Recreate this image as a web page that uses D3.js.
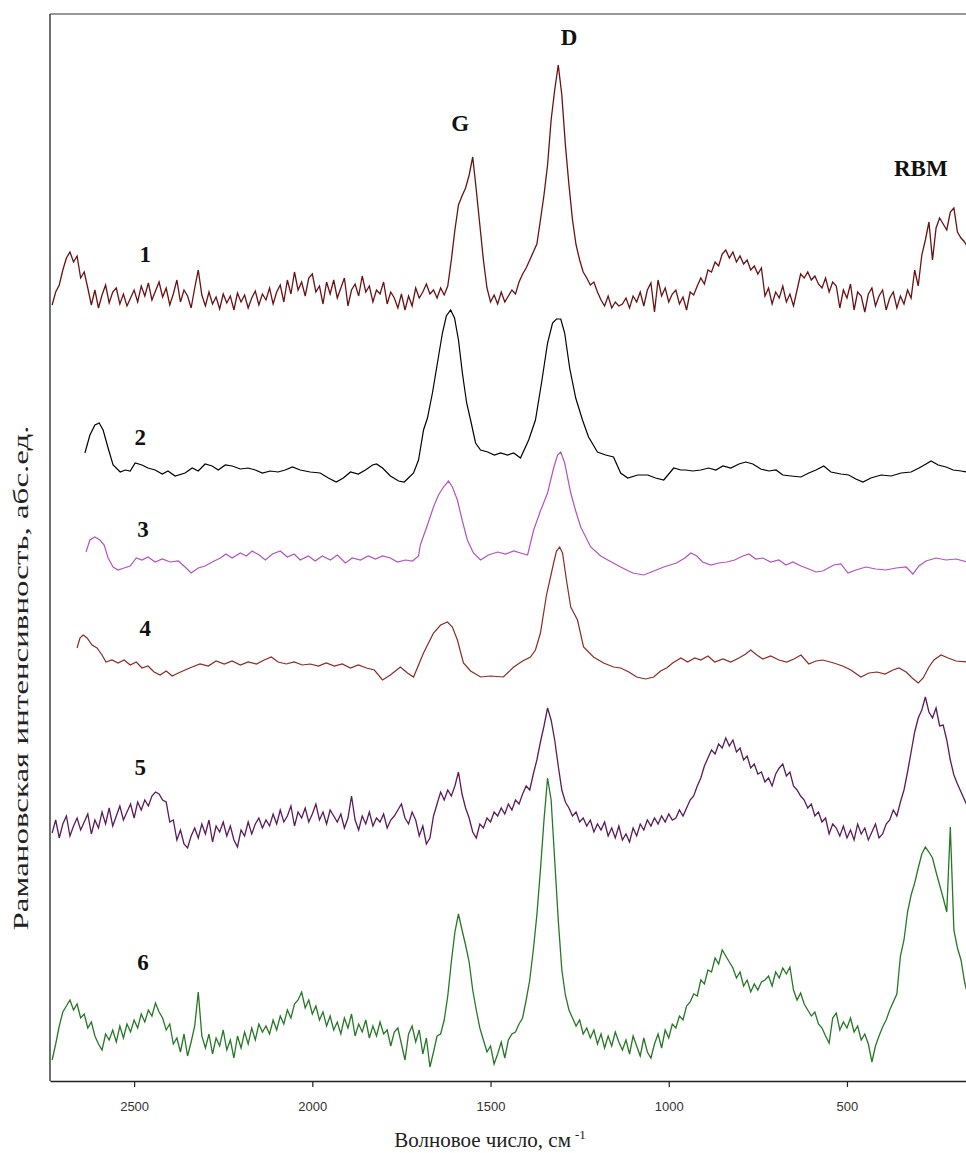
<!DOCTYPE html>
<html>
<head>
<meta charset="utf-8">
<script src="https://cdn.jsdelivr.net/npm/d3@7"></script>
<style>
  html, body { margin: 0; padding: 0; background: #fff; }
  svg { display: block; }
</style>
</head>
<body>
<svg id="chart" width="966" height="1153"></svg>
<script>
// ---------- DATA ----------
// x axis tick labels (wavenumber, cm^-1)
const xTicks = [2500, 2000, 1500, 1000, 500];

// series names / labels
const seriesNames = ["1", "2", "3", "4", "5", "6"];
const seriesColors = ["#6a1212", "#000000", "#b552bd", "#8c2b22", "#5b1a5b", "#267826"];
// vertical offsets of the stacked spectra (arbitrary intensity units)
const seriesOffsets = [781, 613, 518, 416, 251, 41];

// Noisy spectra (1, 5, 6) sampled every 10 cm^-1 starting at 2730 cm^-1
const noisyStart = 2730, noisyStep = 10;

const spectrum1 = [
  -5, 8, 15, 30, 42, 48, 38, 44, 22, 28,
  12, -5, 10, -8, 5, 15, -3, 8, 12, -4,
  6, -6, 2, 10, -2, 14, 4, 17, 0, 9,
  18, 3, 12, -5, 6, 20, -2, 10, 4, -8,
  12, 30, 5, -6, 8, -4, 3, -9, 6, -3,
  4, -10, 7, -2, 5, -8, 2, 9, -5, 6,
  0, 12, -4, 8, 15, -2, 20, 6, 28, 10,
  18, 4, 22, 26, 8, 14, -4, 18, 6, 20,
  2, 12, 22, -6, 10, 16, 4, 24, 8, 14,
  -2, 10, 6, 18, -4, 8, 2, -8, 6, -10,
  4, -6, 12, 2, 8, 16, 6, 10, 2, 12,
  5, 14, 40, 70, 95, 104, 112, 125, 143, 110,
  75, 40, 12, -2, 5, -4, 8, -2, 4, 10,
  6, 18, 26, 32, 40, 48, 56, 80, 105, 135,
  180, 210, 235, 205, 155, 115, 80, 55, 40, 28,
  22, 15, 18, 8, 0, -6, 4, -8, -2, -6,
  -4, 2, -8, 4, -2, 8, -6, 10, 17, -12,
  20, 4, 12, -2, 6, 10, -4, 3, -10, 8,
  5, 14, 22, 16, 30, 28, 38, 34, 46, 50,
  42, 48, 38, 44, 36, 40, 30, 34, 26, 32,
  4, 12, -4, 8, 2, 14, -2, 6, -6, 10,
  26, 22, 28, 20, 24, 16, 12, 22, 8, 18,
  14, -8, 10, 2, 16, -10, 8, 4, -12, 6,
  12, -6, 4, 10, -10, 2, 8, -8, 4, -4,
  10, 2, 30, 14, 45, 60, 78, 40, 72, 82,
  76, 70, 88, 92, 68, 62, 58, 52
];

const spectrum5 = [
  -3, 10, -8, 6, 14, -6, 4, 12, 0, 8,
  16, -4, 10, 2, 18, 6, 22, 4, 14, 24,
  10, 18, 26, 12, 28, 20, 30, 24, 34, 38,
  36, 30, 28, 8, 10, -10, 0, -14, -18, -6,
  2, -8, 6, -4, 10, -12, 4, -2, 8, -6,
  4, -10, -17, 0, -6, 8, -4, 6, 12, 2,
  10, 4, 16, 6, 20, 8, 14, 24, 4, 18,
  12, 22, 8, 16, 26, 10, 18, 6, 20, 14,
  8, 16, 2, 12, 34, 10, 0, 14, 6, 18,
  4, 12, 8, 16, 2, 10, 14, 20, 26, 12,
  6, 18, 10, -6, 4, -14, -8, 14, 26, 38,
  30, 40, 34, 44, 58, 36, 22, 12, -2, -8,
  6, 2, 12, 8, 18, 14, 22, 16, 26, 20,
  30, 26, 36, 44, 40, 56, 70, 88, 104, 122,
  110, 90, 64, 40, 28, 22, 14, 18, 8, 12,
  4, 10, -2, 6, 0, 8, -6, 2, -8, 4,
  -10, -4, -12, 2, -6, 6, 0, 10, 4, 12,
  6, 14, 8, 16, 10, 12, 20, 14, 22, 30,
  34, 44, 52, 64, 72, 80, 76, 86, 82, 92,
  84, 90, 78, 82, 70, 74, 62, 66, 56, 58,
  48, 52, 44, 56, 62, 66, 54, 58, 44, 40,
  34, 30, 22, 26, 14, 18, 8, 12, -4, 6,
  2, -6, 4, -8, 0, -10, 6, -4, 2, -10,
  -2, 6, -8, -4, 6, 10, 20, 14, 28, 40,
  58, 78, 98, 112, 120, 133, 118, 112, 122, 104,
  105, 90, 70, 55, 46, 38, 30, 22
];

const spectrum6 = [
  -20, -4, 14, 28, 34, 40, 30, 36, 22, 26,
  12, 18, 4, -4, -10, 6, 0, 10, -2, 14,
  2, 16, 8, 20, 12, 26, 18, 30, 24, 37,
  28, 22, 10, 16, -4, 2, -12, 6, -16, -2,
  14, 48, 4, -8, 6, -14, 2, -6, 10, -10,
  0, -18, 4, -8, 8, -4, 12, 0, 16, 8,
  14, 6, 20, 10, 24, 16, 30, 22, 36, 40,
  48, 32, 40, 26, 34, 20, 28, 14, 24, 10,
  18, 6, 22, 12, 26, 4, 16, 8, 20, 2,
  14, 4, 18, 6, 10, -6, 8, 12, -4, -20,
  6, 14, -2, 10, -14, 2, -27, -12, 4, 6,
  20, 44, 78, 108, 126, 110, 95, 78, 50, 30,
  12, 0, -12, -6, -24, -14, -2, -18, 0, 6,
  8, 16, 22, 40, 60, 90, 125, 170, 220, 262,
  240, 180, 120, 70, 45, 30, 22, 14, 20, 6,
  12, 2, 10, -4, 6, -8, 4, -6, 8, -2,
  -10, 0, -14, 4, -6, -16, 2, -12, -18, -4,
  6, -8, 10, 2, 16, 12, 24, 20, 34, 38,
  46, 44, 60, 56, 70, 68, 82, 76, 90, 84,
  78, 72, 62, 68, 54, 60, 48, 56, 50, 58,
  60, 64, 54, 68, 62, 72, 66, 73, 50, 40,
  47, 36, 30, 24, 28, 16, 12, 4, -3, 22,
  27, 10, 18, 12, 22, 8, 14, 0, 6, -4,
  -22, -6, 4, 13, 20, 30, 38, 46, 84, 100,
  128, 145, 157, 172, 186, 193, 188, 182, 168, 155,
  142, 128, 213, 110, 92, 80, 58, 43
];

// Smooth spectra (2, 3, 4) as [wavenumber, intensity] pairs
const spectrum2 = [
  [2638,15],[2624,33],[2610,43],[2598,45],[2587,38],[2573,20],[2559,3],[2539,-4],[2525,-2],[2511,-3],
  [2497,5],[2478,3],[2461,0],[2441,-2],[2421,-6],[2405,-3],[2385,-8],[2357,-5],[2337,0],[2320,-3],
  [2301,4],[2281,2],[2264,-2],[2244,3],[2225,2],[2202,-1],[2180,0],[2160,-2],[2140,-5],[2118,-3],
  [2096,-4],[2076,-2],[2056,1],[2034,-2],[2006,-4],[1978,-5],[1955,-10],[1933,-14],[1913,-10],[1893,-4],
  [1871,-6],[1851,-2],[1831,3],[1820,4],[1803,0],[1781,-8],[1758,-13],[1742,-14],[1716,-5],[1702,8],
  [1688,38],[1677,50],[1663,75],[1649,105],[1635,135],[1624,152],[1612,158],[1601,150],[1590,128],[1579,95],
  [1567,65],[1556,48],[1542,25],[1528,18],[1508,16],[1489,13],[1472,15],[1452,13],[1435,15],[1416,10],
  [1393,28],[1374,48],[1357,85],[1340,125],[1326,145],[1315,149],[1303,149],[1292,135],[1278,100],[1261,70],
  [1242,48],[1225,31],[1200,16],[1177,13],[1155,11],[1135,-5],[1115,-10],[1087,-7],[1059,-7],[1037,-10],
  [1014,-12],[986,0],[966,-2],[952,-2],[933,-3],[910,-2],[888,0],[868,-2],[848,2],[826,0],
  [803,4],[784,6],[764,4],[742,-1],[719,-3],[699,-2],[680,-7],[657,-8],[629,-9],[607,-5],
  [587,-2],[565,2],[545,-4],[517,-6],[495,-7],[475,-11],[455,-14],[433,-10],[404,-7],[376,-8],
  [348,-5],[320,-4],[298,0],[278,4],[264,7],[244,3],[222,1],[202,-2],[180,-3],[163,-4]
];

const spectrum3 = [
  [2635,11],[2624,23],[2610,26],[2596,23],[2584,18],[2573,5],[2559,-4],[2545,-7],[2528,-5],[2511,-3],
  [2494,5],[2478,3],[2461,6],[2441,1],[2421,4],[2399,1],[2376,2],[2357,-4],[2340,-10],[2320,-5],
  [2301,-3],[2281,1],[2258,5],[2242,9],[2225,5],[2202,10],[2185,7],[2169,12],[2149,8],[2132,3],
  [2112,9],[2090,12],[2070,6],[2051,9],[2034,3],[2011,7],[1992,2],[1972,7],[1949,3],[1930,8],
  [1907,0],[1888,5],[1865,3],[1843,7],[1823,4],[1803,7],[1781,5],[1761,1],[1739,3],[1719,2],
  [1702,7],[1697,18],[1677,38],[1660,56],[1646,68],[1632,76],[1618,82],[1607,76],[1593,63],[1579,42],
  [1565,23],[1548,10],[1528,3],[1506,8],[1480,11],[1458,9],[1435,12],[1416,10],[1396,8],[1379,33],
  [1360,52],[1340,70],[1323,95],[1312,108],[1303,111],[1292,100],[1275,70],[1261,52],[1247,36],[1219,16],
  [1191,7],[1171,3],[1135,-4],[1101,-10],[1070,-12],[1042,-8],[1014,-4],[978,0],[955,5],[938,10],
  [921,7],[905,1],[882,-2],[860,0],[837,1],[815,3],[792,7],[775,9],[756,4],[736,5],
  [714,1],[691,3],[671,-2],[652,1],[629,-3],[607,-6],[587,-9],[568,-8],[537,-2],[517,-1],
  [497,-10],[475,-7],[447,-4],[419,-6],[391,-7],[362,-5],[334,-4],[315,-11],[298,-3],[278,2],
  [250,5],[222,3],[194,4],[163,1]
];

const spectrum4 = [
  [2660,17],[2652,27],[2643,30],[2632,27],[2618,20],[2604,17],[2590,10],[2579,3],[2562,5],[2545,2],
  [2528,5],[2511,0],[2494,3],[2478,-3],[2461,-1],[2444,-7],[2427,-10],[2410,-6],[2393,-11],[2376,-8],
  [2357,-5],[2337,-2],[2315,1],[2292,-1],[2270,4],[2247,1],[2225,4],[2202,0],[2180,3],[2157,1],
  [2135,5],[2115,8],[2096,3],[2073,1],[2051,3],[2028,0],[2006,1],[1983,-1],[1961,2],[1938,-1],
  [1916,1],[1893,-3],[1871,0],[1848,-3],[1826,-5],[1803,-15],[1781,-10],[1753,-2],[1733,-8],[1716,-12],
  [1688,12],[1660,32],[1640,40],[1621,43],[1607,38],[1593,25],[1576,2],[1556,-6],[1528,-12],[1500,-11],
  [1464,-12],[1435,-2],[1410,4],[1388,8],[1374,15],[1360,32],[1343,70],[1323,102],[1315,114],[1306,118],
  [1298,112],[1287,85],[1275,58],[1256,45],[1239,18],[1211,8],[1183,2],[1155,-2],[1135,-3],[1112,-7],
  [1090,-12],[1065,-14],[1042,-12],[1023,-6],[1006,-3],[989,2],[966,7],[947,3],[927,7],[910,5],
  [890,9],[871,3],[848,6],[826,3],[803,7],[784,11],[770,15],[753,10],[736,6],[714,9],
  [691,5],[669,3],[649,6],[629,10],[607,1],[587,4],[568,5],[537,2],[512,-1],[489,-5],
  [461,-12],[438,-8],[416,-7],[393,-9],[371,-5],[354,-3],[334,-7],[317,-13],[300,-18],[286,-13],
  [270,-2],[256,5],[236,10],[216,7],[194,4],[163,3]
];

// Peak annotations
const peakLabels = ["G", "D", "RBM"];

// ---------- DRAWING ----------
const svg = d3.select("#chart");
const W = 966, H = 1153;
const plot = { left: 50, right: 966, top: 14, bottom: 1081 };

const x = d3.scaleLinear().domain([2736, 166]).range([plot.left, plot.right]);
const y = d3.scaleLinear().domain([0, 1067]).range([plot.bottom, plot.top]);

svg.append("rect").attr("width", W).attr("height", H).attr("fill", "#fff");

svg.append("defs").append("clipPath").attr("id", "clip")
  .append("rect").attr("x", plot.left + 1).attr("y", plot.top)
  .attr("width", plot.right - plot.left).attr("height", plot.bottom - plot.top);

const toNoisy = arr => arr.map((v, i) => [noisyStart - i * noisyStep, v]);
const allSeries = [
  toNoisy(spectrum1), spectrum2, spectrum3, spectrum4, toNoisy(spectrum5), toNoisy(spectrum6)
];

const line = d3.line().x(d => x(d[0])).y(d => y(d[1]));

const g = svg.append("g").attr("clip-path", "url(#clip)");
allSeries.forEach((data, k) => {
  const off = seriesOffsets[k];
  g.append("path")
    .datum(data.map(d => [d[0], d[1] + off]))
    .attr("fill", "none")
    .attr("stroke", seriesColors[k])
    .attr("stroke-width", k === 0 || k >= 4 ? 1.3 : 1.2)
    .attr("stroke-linejoin", "miter")
    .attr("d", line);
});

// frame
svg.append("line").attr("x1", plot.left).attr("x2", plot.right)
  .attr("y1", plot.top).attr("y2", plot.top).attr("stroke", "#333").attr("stroke-width", 1.2);
svg.append("line").attr("x1", plot.left).attr("x2", plot.left)
  .attr("y1", plot.top).attr("y2", plot.bottom).attr("stroke", "#222").attr("stroke-width", 1.3);

// x axis
const xAxis = d3.axisBottom(x).tickValues(xTicks).tickSize(6).tickSizeOuter(0).tickPadding(15)
  .tickFormat(d3.format("d"));
const ax = svg.append("g").attr("transform", `translate(0,${plot.bottom})`).call(xAxis);
ax.select(".domain").attr("stroke", "#222").attr("stroke-width", 1.4);
ax.selectAll(".tick line").attr("stroke", "#222").attr("stroke-width", 1.2);
ax.selectAll(".tick text")
  .attr("font-family", "'Liberation Sans Narrow', 'Arial Narrow', 'Liberation Sans', sans-serif")
  .attr("font-size", 13).attr("fill", "#333");

// axis titles
const xt = svg.append("text")
  .attr("x", 490).attr("y", 1147).attr("text-anchor", "middle")
  .attr("font-family", "'Liberation Serif', 'Times New Roman', serif")
  .attr("font-size", 21).attr("fill", "#222");
xt.append("tspan").text("Волновое число, см");
xt.append("tspan").attr("dx", 4).attr("dy", -8).attr("font-size", 13).text("-1");

svg.append("text")
  .attr("transform", "translate(28,678) rotate(-90)")
  .attr("text-anchor", "middle")
  .attr("font-family", "'Liberation Serif', 'Times New Roman', serif")
  .attr("font-size", 20).attr("fill", "#222")
  .attr("textLength", 505).attr("lengthAdjust", "spacingAndGlyphs")
  .text("Рамановская интенсивность, абс.ед.");

// series number labels (placed in data coordinates)
const labelWave = [2469, 2483, 2475, 2469, 2483, 2475];
const labelLift = [38, 23, 26, 29, 55, 70];
seriesNames.forEach((name, k) => {
  svg.append("text")
    .attr("x", x(labelWave[k])).attr("y", y(seriesOffsets[k] + labelLift[k]))
    .attr("text-anchor", "middle")
    .attr("font-family", "'Liberation Serif', 'Times New Roman', serif")
    .attr("font-weight", "bold").attr("font-size", 23).attr("fill", "#111")
    .text(name);
});

// peak labels
const peakPos = [[1585, 950], [1280, 1036], [368, 905]];
peakLabels.forEach((t, k) => {
  svg.append("text")
    .attr("x", x(peakPos[k][0])).attr("y", y(peakPos[k][1]))
    .attr("text-anchor", k === 2 ? "start" : "middle")
    .attr("font-family", "'Liberation Serif', 'Times New Roman', serif")
    .attr("font-weight", "bold").attr("font-size", 23).attr("fill", "#111")
    .text(t);
});
</script>
</body>
</html>
